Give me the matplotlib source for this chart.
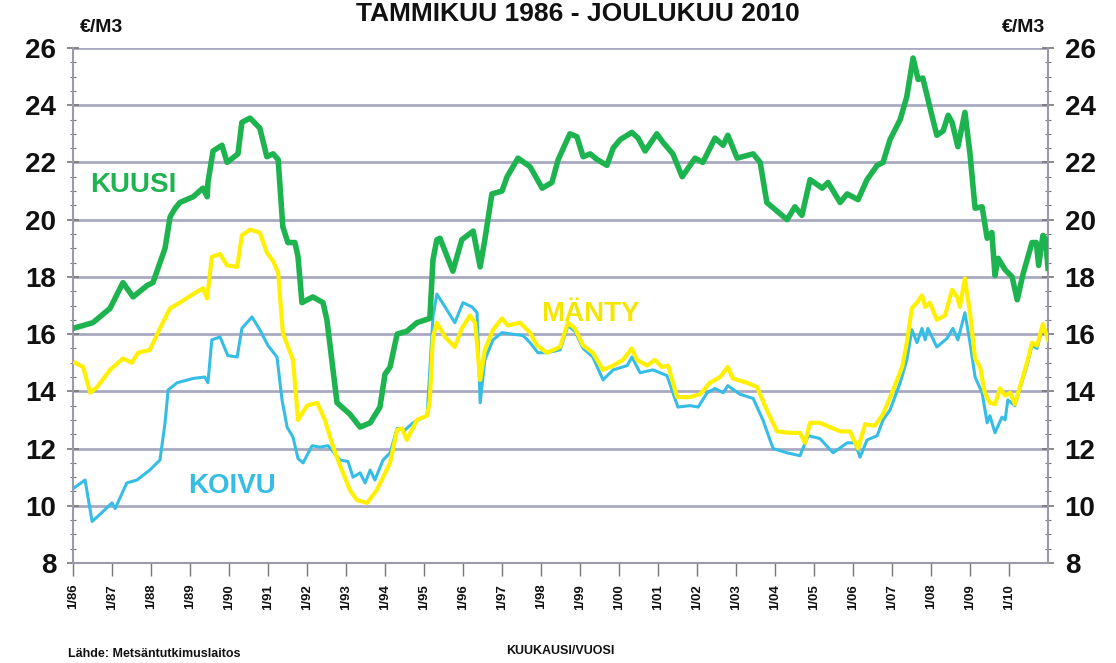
import matplotlib
matplotlib.use("Agg")
import matplotlib.pyplot as plt
from matplotlib.ticker import MultipleLocator

plt.rcParams['font.family'] = ['Liberation Sans', 'DejaVu Sans']

# ---- data (decimal year, EUR/m3) ----
kuusi_t = [1986.00, 1986.51, 1986.95, 1987.28, 1987.54, 1987.90, 1988.05, 1988.23, 1988.36, 1988.49,
           1988.62, 1988.74, 1989.08, 1989.33, 1989.44, 1989.46, 1989.59, 1989.82, 1989.95, 1990.23,
           1990.33, 1990.54, 1990.79, 1990.97, 1991.13, 1991.26, 1991.38, 1991.51, 1991.69, 1991.77,
           1991.87, 1992.15, 1992.41, 1992.51, 1992.77, 1993.10, 1993.36, 1993.62, 1993.87, 1994.00,
           1994.13, 1994.31, 1994.56, 1994.82, 1995.15, 1995.23, 1995.33, 1995.41, 1995.74, 1995.97,
           1996.26, 1996.44, 1996.56, 1996.74, 1997.00, 1997.13, 1997.41, 1997.72, 1998.03, 1998.28,
           1998.44, 1998.74, 1998.92, 1999.08, 1999.26, 1999.44, 1999.69, 1999.85, 2000.03, 2000.33,
           2000.49, 2000.67, 2000.97, 2001.13, 2001.38, 2001.62, 2001.95, 2002.15, 2002.46, 2002.67,
           2002.79, 2003.03, 2003.44, 2003.62, 2003.79, 2004.05, 2004.31, 2004.51, 2004.69, 2004.90,
           2005.21, 2005.36, 2005.67, 2005.85, 2006.13, 2006.36, 2006.62, 2006.77, 2006.95, 2007.21,
           2007.38, 2007.54, 2007.67, 2007.79, 2008.03, 2008.15, 2008.31, 2008.44, 2008.54, 2008.69,
           2008.87, 2009.00, 2009.13, 2009.31, 2009.44, 2009.56, 2009.64, 2009.72, 2009.90, 2010.08,
           2010.21, 2010.36, 2010.59, 2010.70, 2010.76, 2010.87, 2010.94, 2011.00]
kuusi_v = [16.2, 16.4, 16.9, 17.8, 17.3, 17.7, 17.8, 18.5, 19.0, 20.1,
           20.4, 20.6, 20.8, 21.1, 20.8, 21.3, 22.4, 22.6, 22.0, 22.3,
           23.4, 23.55, 23.2, 22.2, 22.3, 22.1, 19.75, 19.2, 19.2, 18.7,
           17.1, 17.3, 17.1, 16.5, 13.6, 13.2, 12.75, 12.9, 13.45, 14.6,
           14.85, 16.0, 16.1, 16.4, 16.55, 18.6, 19.3, 19.35, 18.2, 19.3,
           19.6, 18.35, 19.3, 20.9, 21.0, 21.5, 22.15, 21.85, 21.1, 21.3,
           22.1, 23.0, 22.9, 22.2, 22.3, 22.1, 21.9, 22.5, 22.8, 23.05,
           22.85, 22.4, 23.0, 22.7, 22.3, 21.5, 22.15, 22.0, 22.85, 22.6,
           22.95, 22.15, 22.3, 22.0, 20.6, 20.3, 20.0, 20.45, 20.15, 21.4,
           21.1, 21.3, 20.6, 20.9, 20.7, 21.4, 21.9, 22.0, 22.8, 23.5,
           24.3, 25.65, 24.9, 24.95, 23.6, 22.95, 23.1, 23.65, 23.4, 22.55,
           23.75, 22.3, 20.4, 20.45, 19.35, 19.55, 18.05, 18.65, 18.25, 18.0,
           17.2, 18.1, 19.2, 19.2, 18.4, 19.45, 19.3, 18.3]

manty_t = [1986.05, 1986.26, 1986.44, 1986.62, 1986.95, 1987.28, 1987.51, 1987.67, 1987.97, 1988.23,
           1988.49, 1988.74, 1989.08, 1989.33, 1989.44, 1989.56, 1989.77, 1989.95, 1990.21, 1990.33,
           1990.54, 1990.79, 1990.97, 1991.13, 1991.26, 1991.38, 1991.64, 1991.77, 1992.00, 1992.26,
           1992.46, 1992.67, 1992.85, 1993.10, 1993.28, 1993.54, 1993.79, 1994.13, 1994.31, 1994.44,
           1994.56, 1994.82, 1995.08, 1995.15, 1995.23, 1995.33, 1995.54, 1995.79, 1995.97, 1996.18,
           1996.31, 1996.44, 1996.56, 1996.77, 1997.00, 1997.15, 1997.46, 1997.72, 1997.90, 1998.15,
           1998.49, 1998.69, 1998.87, 1999.08, 1999.33, 1999.59, 1999.85, 2000.10, 2000.33, 2000.46,
           2000.72, 2000.92, 2001.10, 2001.26, 2001.49, 2001.82, 2002.08, 2002.33, 2002.59, 2002.79,
           2002.92, 2003.28, 2003.54, 2003.79, 2004.05, 2004.38, 2004.64, 2004.77, 2004.90, 2005.15,
           2005.41, 2005.67, 2005.92, 2006.13, 2006.31, 2006.56, 2006.77, 2007.03, 2007.26, 2007.38,
           2007.51, 2007.64, 2007.77, 2007.85, 2007.97, 2008.15, 2008.36, 2008.54, 2008.67, 2008.74,
           2008.87, 2009.00, 2009.13, 2009.26, 2009.38, 2009.51, 2009.64, 2009.77, 2009.90, 2010.03,
           2010.15, 2010.28, 2010.46, 2010.59, 2010.72, 2010.87, 2011.00]
manty_v = [15.0, 14.85, 13.95, 14.15, 14.75, 15.15, 15.0, 15.35, 15.45, 16.2,
           16.9, 17.1, 17.4, 17.6, 17.25, 18.7, 18.8, 18.4, 18.35, 19.45,
           19.65, 19.55, 18.85, 18.55, 18.15, 16.05, 15.1, 13.0, 13.5, 13.6,
           13.0, 12.05, 11.4, 10.55, 10.2, 10.1, 10.55, 11.5, 12.65, 12.7,
           12.3, 13.0, 13.15, 13.7, 15.9, 16.4, 15.9, 15.55, 16.2, 16.65,
           16.4, 14.4, 15.45, 16.15, 16.55, 16.3, 16.4, 16.05, 15.6, 15.35,
           15.55, 16.4, 16.2, 15.6, 15.35, 14.75, 14.9, 15.1, 15.5, 15.1,
           14.9, 15.1, 14.85, 14.9, 13.8, 13.8, 13.9, 14.3, 14.5, 14.85,
           14.45, 14.3, 14.15, 13.35, 12.6, 12.55, 12.55, 12.2, 12.9, 12.9,
           12.75, 12.6, 12.6, 12.0, 12.85, 12.8, 13.2, 14.05, 14.85, 15.7,
           16.9, 17.1, 17.35, 16.95, 17.1, 16.5, 16.65, 17.55, 17.3, 16.95,
           17.95, 16.75, 15.15, 14.85, 13.95, 13.6, 13.55, 14.1, 13.85, 13.95,
           13.55, 14.15, 15.0, 15.7, 15.6, 16.35, 15.8]

koivu_t = [1986.00, 1986.31, 1986.49, 1986.69, 1987.00, 1987.08, 1987.38, 1987.64, 1987.97, 1988.23,
           1988.36, 1988.44, 1988.67, 1989.08, 1989.38, 1989.46, 1989.56, 1989.77, 1989.97, 1990.21,
           1990.33, 1990.59, 1990.79, 1991.00, 1991.23, 1991.36, 1991.49, 1991.64, 1991.77, 1991.90,
           1992.13, 1992.33, 1992.54, 1992.85, 1993.05, 1993.18, 1993.36, 1993.49, 1993.62, 1993.74,
           1993.95, 1994.13, 1994.31, 1994.51, 1994.72, 1995.08, 1995.23, 1995.33, 1995.54, 1995.79,
           1996.00, 1996.23, 1996.36, 1996.44, 1996.56, 1996.77, 1997.00, 1997.26, 1997.54, 1997.72,
           1997.92, 1998.15, 1998.49, 1998.69, 1998.87, 1999.08, 1999.33, 1999.59, 1999.85, 2000.21,
           2000.33, 2000.54, 2000.87, 2001.23, 2001.51, 2001.82, 2002.03, 2002.26, 2002.46, 2002.67,
           2002.79, 2003.10, 2003.44, 2003.69, 2003.95, 2004.31, 2004.64, 2004.85, 2005.15, 2005.49,
           2005.85, 2006.05, 2006.18, 2006.36, 2006.62, 2006.77, 2006.95, 2007.21, 2007.38, 2007.51,
           2007.64, 2007.77, 2007.85, 2007.92, 2008.15, 2008.41, 2008.56, 2008.69, 2008.87, 2009.00,
           2009.13, 2009.31, 2009.44, 2009.51, 2009.64, 2009.82, 2009.90, 2009.97, 2010.15, 2010.28,
           2010.46, 2010.59, 2010.72, 2010.87, 2011.00]
koivu_v = [10.6, 10.9, 9.45, 9.7, 10.1, 9.9, 10.8, 10.9, 11.25, 11.6,
           12.9, 14.05, 14.3, 14.45, 14.5, 14.3, 15.8, 15.9, 15.25, 15.2,
           16.2, 16.6, 16.15, 15.6, 15.2, 13.7, 12.75, 12.4, 11.65, 11.5,
           12.1, 12.05, 12.1, 11.6, 11.55, 11.0, 11.15, 10.8, 11.25, 10.9,
           11.6, 11.85, 12.7, 12.65, 12.9, 13.15, 16.6, 17.4, 16.95, 16.4,
           17.1, 16.95, 16.75, 13.6, 15.1, 15.8, 16.05, 16.0, 15.95, 15.7,
           15.35, 15.35, 15.45, 16.3, 16.1, 15.5, 15.2, 14.4, 14.75, 14.9,
           15.2, 14.65, 14.75, 14.55, 13.45, 13.5, 13.45, 13.95, 14.1, 13.95,
           14.2, 13.9, 13.75, 13.0, 12.0, 11.85, 11.75, 12.45, 12.35, 11.85,
           12.2, 12.2, 11.7, 12.3, 12.45, 13.0, 13.35, 14.3, 15.1, 16.15,
           15.7, 16.2, 15.8, 16.2, 15.55, 15.85, 16.2, 15.8, 16.75, 15.7,
           14.5, 13.95, 12.9, 13.15, 12.55, 13.1, 13.0, 13.7, 13.5, 14.1,
           14.9, 15.6, 15.5, 16.3, 15.8]

year_ticks = list(range(1986, 2011))
year_labels = ["1/%02d" % (y % 100) for y in year_ticks]
y_ticks = [8, 10, 12, 14, 16, 18, 20, 22, 24, 26]

GREEN = "#1db34f"
YELLOW = "#fff000"
CYAN = "#35bde6"
GRID = "#a9a9c2"

fig = plt.figure(figsize=(11.16, 6.63), dpi=100)
ax = fig.add_axes([73 / 1116, 1 - 563 / 663, (1048 - 73) / 1116, (563 - 48) / 663])

ax.set_xlim(1986, 2011)
ax.set_ylim(8, 26)

for y in y_ticks:
    ax.axhline(y, color=GRID, lw=2.0, zorder=1)

ax.plot(koivu_t, koivu_v, color=CYAN, lw=2.2, zorder=3, solid_joinstyle="round")
ax.plot(manty_t, manty_v, color=YELLOW, lw=3.0, zorder=4, solid_joinstyle="round")
ax.plot(kuusi_t, kuusi_v, color=GREEN, lw=4.0, zorder=5, solid_joinstyle="round")

ax.spines["top"].set_visible(False)
for s in ["left", "right", "bottom"]:
    ax.spines[s].set_color("#9a9aa8")
    ax.spines[s].set_linewidth(1.5)

ax.set_yticks(y_ticks)
ax.yaxis.set_minor_locator(MultipleLocator(0.5))
ax.tick_params(axis="y", which="both", left=True, right=True, labelleft=True, labelright=True,
               colors="#777777", labelcolor="#111111", labelsize=20, direction="inout")
ax.tick_params(axis="y", which="major", length=8, width=1.2, pad=8)
ax.tick_params(axis="y", which="minor", length=5, width=0.8)
for lab in ax.get_yticklabels():
    lab.set_fontweight("bold")
for lab in ax.yaxis.get_ticklabels(which="major"):
    lab.set_fontweight("bold")

ax.set_xticks(year_ticks)
ax.set_xticklabels(year_labels, rotation=90, fontsize=9.5, fontweight="bold", color="#111111")
ax.tick_params(axis="x", which="major", length=9, width=1.0, color="#777777", pad=6, direction="out")

ax.text(1986.45, 21.2, "KUUSI", color=GREEN, fontsize=20, fontweight="bold", ha="left", va="center")
ax.text(1988.95, 10.7, "KOIVU", color=CYAN, fontsize=20, fontweight="bold", ha="left", va="center")
ax.text(1998.0, 16.7, "MÄNTY", color="#f5e600", fontsize=20, fontweight="bold", ha="left", va="center")

fig.text(578 / 1116, 1 - 21 / 663, "TAMMIKUU 1986 - JOULUKUU 2010", ha="center", va="baseline",
         fontsize=19, fontweight="bold", color="#111111")
fig.text(80 / 1116, 1 - 28 / 663, "€/M3", ha="left", va="center", fontsize=14, fontweight="bold",
         color="#111111")
fig.text(1045 / 1116, 1 - 28 / 663, "€/M3", ha="right", va="center", fontsize=14, fontweight="bold",
         color="#111111")
fig.text(560 / 1116, 1 - 651 / 663, "KUUKAUSI/VUOSI", ha="center", va="center", fontsize=9,
         fontweight="bold", color="#111111")
fig.text(68 / 1116, 1 - 654 / 663, "Lähde: Metsäntutkimuslaitos", ha="left", va="center", fontsize=9,
         fontweight="bold", color="#111111")

fig.savefig("out.png", dpi=100)
